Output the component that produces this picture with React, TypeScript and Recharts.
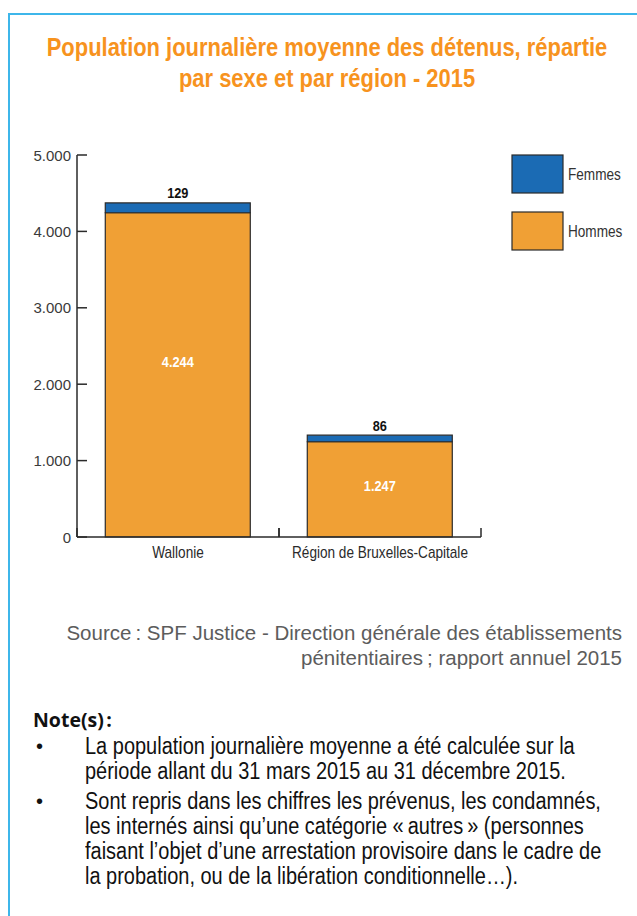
import { BarChart, Bar, XAxis, YAxis, LabelList } from 'recharts';

// data
const regions = ['Wallonie', 'Région de Bruxelles-Capitale'];
const hommes = [4244, 1247];
const femmes = [129, 86];
const yTicks = [0, 1000, 2000, 3000, 4000, 5000];

const data = regions.map((region, i) => ({ region, Hommes: hommes[i], Femmes: femmes[i] }));

// no narrow font installed, so Liberation Sans gets squeezed horizontally
const FONT = "'Liberation Sans', Arial, sans-serif";
const SQUEEZE = 0.85;
const ORANGE = '#f0a035';
const BLUE = '#1b6bb4';
const OUTLINE = '#2a2a2a';
const TITLE = '#f7931e';

// plot box
const PLOT_LEFT = 77;
const PLOT_RIGHT = 481;
const PLOT_TOP = 155;
const PLOT_BOTTOM = 537;
const CHART_W = 637;
const CHART_H = 600;
const BAND = (PLOT_RIGHT - PLOT_LEFT) / regions.length;

const fmt = (v: number) => String(v).replace(/\B(?=(\d{3})+(?!\d))/g, '.');

const NarrowText = ({ x, y, children, ...rest }: any) => (
  <text transform={`translate(${x},${y}) scale(${SQUEEZE},1)`} x={0} y={0} dominantBaseline="central" fontFamily={FONT} {...rest}>
    {children}
  </text>
);

// y ticks point inward, into the plot
const YTick = ({ x, y, payload }: any) => (
  <g>
    <line x1={x} x2={x + 10} y1={y} y2={y} stroke={OUTLINE} strokeWidth={1.5} />
    <text x={x - 6} y={y} textAnchor="end" dominantBaseline="central" fontFamily={FONT} fontSize={15} fill="#3a3a3a">
      {fmt(payload.value)}
    </text>
  </g>
);

// x ticks sit on the category boundaries and point up
const XTick = ({ x, y, payload }: any) => (
  <g>
    <line x1={x - BAND / 2} x2={x - BAND / 2} y1={y} y2={y - 9} stroke={OUTLINE} strokeWidth={1.5} />
    <line x1={x + BAND / 2} x2={x + BAND / 2} y1={y} y2={y - 9} stroke={OUTLINE} strokeWidth={1.5} />
    <NarrowText x={x} y={y + 16} textAnchor="middle" fontSize={16} fill="#2a2a2a">
      {payload.value}
    </NarrowText>
  </g>
);

const InnerLabel = (props: any) => {
  const x = Number(props.x), y = Number(props.y), w = Number(props.width), h = Number(props.height);
  return (
    <NarrowText x={x + w / 2} y={y + h * 0.46} textAnchor="middle" fontWeight="bold" fontSize={15} fill="#fff">
      {fmt(props.value)}
    </NarrowText>
  );
};

const TopLabel = (props: any) => {
  const x = Number(props.x), y = Number(props.y), w = Number(props.width);
  return (
    <NarrowText x={x + w / 2} y={y - 10} textAnchor="middle" fontWeight="bold" fontSize={15} fill="#111">
      {fmt(props.value)}
    </NarrowText>
  );
};

const legendItems = [
  { name: 'Femmes', color: BLUE, top: 155 },
  { name: 'Hommes', color: ORANGE, top: 212 },
];

export default function App() {
  return (
    <div style={{ position: 'absolute', left: 0, top: 0, width: 637, height: 916, background: '#fff', overflow: 'hidden' }}>
      {/* blue frame, runs off the right and bottom edges */}
      <div style={{ position: 'absolute', left: 8, top: 13, width: 700, height: 1000, border: '2px solid #3db6ea' }} />

      <div style={{ position: 'absolute', left: 327 - 450, width: 900, top: 32, textAlign: 'center', fontFamily: FONT, fontWeight: 'bold', fontSize: 25.8, lineHeight: '31px', color: TITLE, transform: `scaleX(${SQUEEZE})`, transformOrigin: '450px 0', whiteSpace: 'nowrap' }}>
        Population journalière moyenne des détenus, répartie
        <br />
        par sexe et par région - 2015
      </div>

      <div style={{ position: 'absolute', left: 0, top: 0 }}>
        <BarChart width={CHART_W} height={CHART_H} data={data} margin={{ top: PLOT_TOP, right: CHART_W - PLOT_RIGHT, left: 0, bottom: CHART_H - PLOT_BOTTOM - 30 }} barCategoryGap="14%">
          <XAxis dataKey="region" height={30} tick={<XTick />} tickLine={false} tickSize={0} tickMargin={0} axisLine={{ stroke: OUTLINE, strokeWidth: 1.5 }} />
          <YAxis width={PLOT_LEFT} domain={[0, 5000]} ticks={yTicks} tick={<YTick />} tickLine={false} tickSize={0} tickMargin={0} axisLine={{ stroke: OUTLINE, strokeWidth: 1.5 }} />
          <Bar dataKey="Hommes" stackId="a" fill={ORANGE} stroke={OUTLINE} strokeWidth={1.2} isAnimationActive={false}>
            <LabelList dataKey="Hommes" content={InnerLabel} />
          </Bar>
          <Bar dataKey="Femmes" stackId="a" fill={BLUE} stroke={OUTLINE} strokeWidth={1.2} isAnimationActive={false}>
            <LabelList dataKey="Femmes" content={TopLabel} />
          </Bar>
        </BarChart>
      </div>

      <svg style={{ position: 'absolute', left: 0, top: 0 }} width={637} height={300}>
        {legendItems.map((it) => (
          <g key={it.name}>
            <rect x={512} y={it.top} width={51} height={38} fill={it.color} stroke={OUTLINE} strokeWidth={1.2} />
            <NarrowText x={568} y={it.top + 20} fontSize={16} fill="#333">
              {it.name}
            </NarrowText>
          </g>
        ))}
      </svg>

      <div style={{ position: 'absolute', right: 15, top: 620, textAlign: 'right', fontFamily: FONT, fontSize: 20.5, lineHeight: '25px', color: '#5c5c5c', whiteSpace: 'nowrap' }}>
        Source&#8239;: SPF Justice - Direction générale des établissements
        <br />
        pénitentiaires&#8239;; rapport annuel 2015
      </div>

      <div style={{ position: 'absolute', left: 33, top: 706, fontFamily: "'Open Sans', sans-serif", fontWeight: 'bold', fontSize: 19.5, color: '#111' }}>
        Note(s)&#8239;:
      </div>
      <div style={{ position: 'absolute', left: 36, top: 734, width: 700, fontFamily: FONT, fontSize: 23.5, lineHeight: '25px', color: '#111', whiteSpace: 'nowrap' }}>
        <div style={{ position: 'relative', paddingLeft: 49 }}>
          <span style={{ position: 'absolute', left: 0, fontSize: 20 }}>•</span>
          <div style={{ transform: `scaleX(${SQUEEZE})`, transformOrigin: '0 0' }}>
            La population journalière moyenne a été calculée sur la
            <br />
            période allant du 31 mars 2015 au 31 décembre 2015.
          </div>
        </div>
        <div style={{ position: 'relative', paddingLeft: 49, marginTop: 5 }}>
          <span style={{ position: 'absolute', left: 0, fontSize: 20 }}>•</span>
          <div style={{ transform: `scaleX(${SQUEEZE})`, transformOrigin: '0 0' }}>
            Sont repris dans les chiffres les prévenus, les condamnés,
            <br />
            les internés ainsi qu’une catégorie «&#8239;autres&#8239;» (personnes
            <br />
            faisant l’objet d’une arrestation provisoire dans le cadre de
            <br />
            la probation, ou de la libération conditionnelle…).
          </div>
        </div>
      </div>
    </div>
  );
}
